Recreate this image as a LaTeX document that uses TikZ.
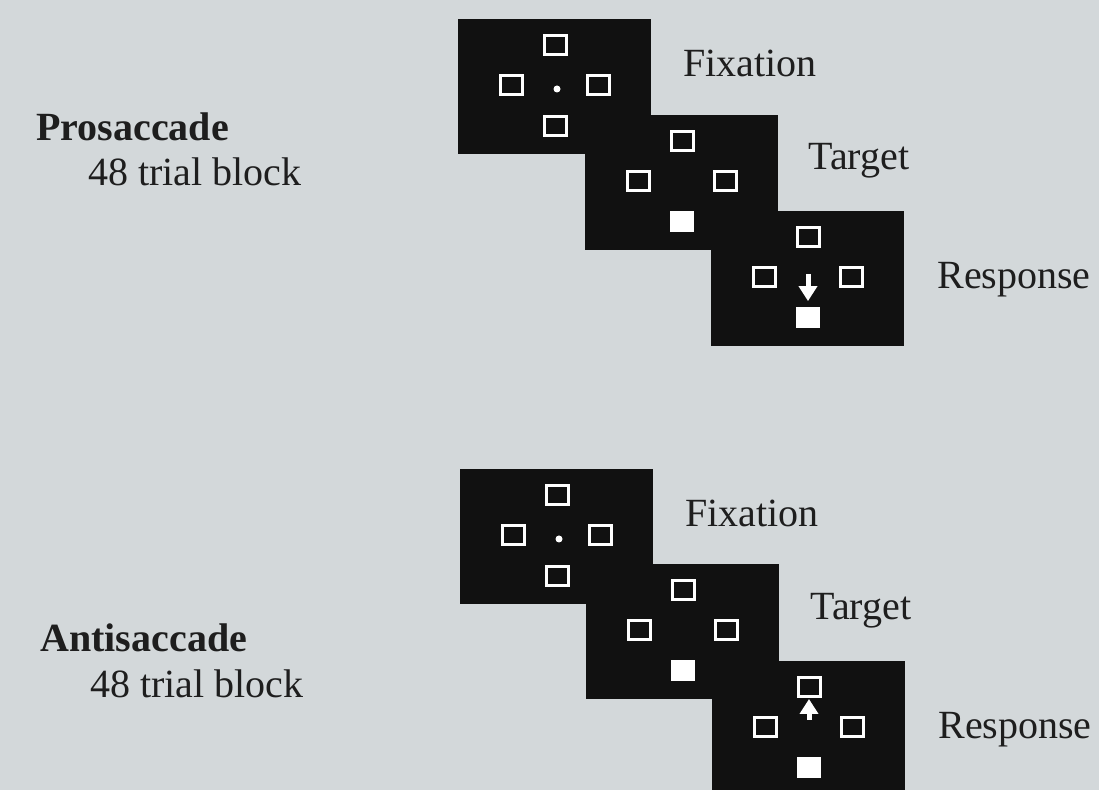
\documentclass[tikz,border=0pt]{standalone}
\usepackage{fontspec}
\setmainfont{Liberation Serif}
\usetikzlibrary{arrows.meta}

\definecolor{backdrop}{RGB}{211,216,218}
\definecolor{screenblack}{RGB}{17,17,17}
\definecolor{inkgray}{RGB}{30,30,30}

\tikzset{
  screen/.style={fill=screenblack},
  holder/.style={draw=white, line width=1.5pt, minimum width=11pt, minimum height=9.5pt, inner sep=0pt},
  target/.style={fill=white, minimum width=12pt, minimum height=10.5pt, inner sep=0pt},
  fixdot/.style={circle, fill=white, inner sep=0pt, minimum size=3.5pt},
  saccade/.style={white, line width=2.5pt, -{Triangle[width=9pt,length=7.5pt]}},
  phase/.style={anchor=base west, inner sep=0pt, text=inkgray, font=\fontsize{20}{24}\selectfont},
  block/.style={anchor=base west, inner sep=0pt, text=inkgray, font=\fontsize{20}{24}\selectfont\bfseries},
}

% one black screen with its four placeholders
\newcommand{\trialscreen}[4]{%
  \begin{scope}[shift={(#2,#3)}]
    \fill[screen] (0,0) rectangle (193,135);
    \node[holder] (#1-t) at (97,26) {};
    \node[holder] (#1-l) at (53.5,66.5) {};
    \node[holder] (#1-r) at (140.5,66.5) {};
    \node[#4] (#1-b) at (97,107) {};
  \end{scope}}

\begin{document}
\begin{tikzpicture}[x=0.5pt, y=-0.5pt]

    % Background
    \clip (0,0) rectangle (1099,790);
    \fill[backdrop] (0,0) rectangle (1099,790);

    % Prosaccade block
    \node[block] (proName) at (36,141) {Prosaccade};
    \node[phase] (proTrials) at (88,186) {48 trial block};

    \trialscreen{proFix}{458}{19}{holder}
    \node[fixdot] (proDot) at (557,89) {};
    \trialscreen{proTgt}{585}{115}{target}
    \trialscreen{proResp}{711}{211}{target}
    \coordinate (proGo) at (808,274);
    \draw[saccade, shorten >=3pt] (proGo) -- (proResp-b);

    \node[phase] (proFixLabel) at (683,77) {Fixation};
    \node[phase] (proTgtLabel) at (808,170) {Target};
    \node[phase] (proRespLabel) at (937,289) {Response};

    % Antisaccade block
    \node[block] (antiName) at (40,652) {Antisaccade};
    \node[phase] (antiTrials) at (90,698) {48 trial block};

    \trialscreen{antiFix}{460}{469}{holder}
    \node[fixdot] (antiDot) at (559,539) {};
    \trialscreen{antiTgt}{586}{564}{target}
    \trialscreen{antiResp}{712}{661}{target}
    \coordinate (antiGo) at (809,720);
    \draw[saccade, shorten >=0.5pt] (antiGo) -- (antiResp-t);

    \node[phase] (antiFixLabel) at (685,527) {Fixation};
    \node[phase] (antiTgtLabel) at (810,620) {Target};
    \node[phase] (antiRespLabel) at (938,739) {Response};

\end{tikzpicture}
\end{document}
